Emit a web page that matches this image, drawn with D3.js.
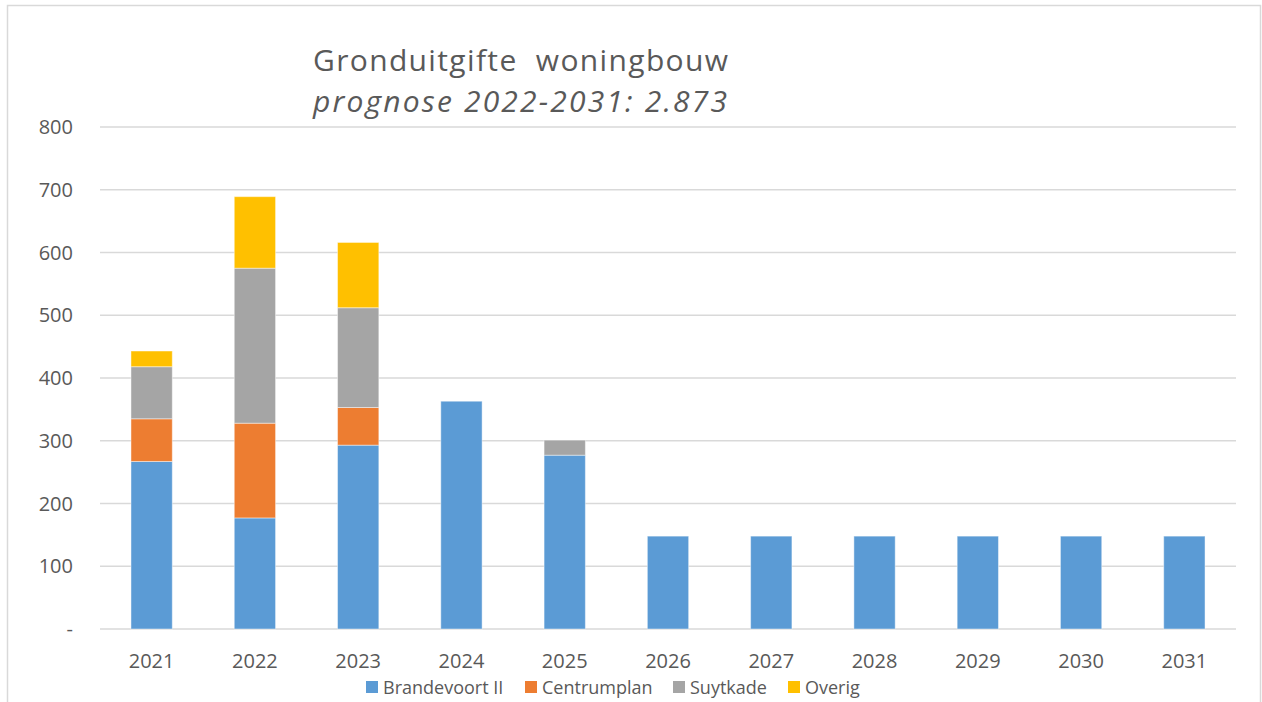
<!DOCTYPE html>
<html>
<head>
<meta charset="utf-8">
<script src="https://cdn.jsdelivr.net/npm/d3@7"></script>
<style>
    body { margin: 0; background: #fff; }
    svg text { font-family: "Open Sans", Lato, sans-serif; fill: #595959; }
</style>
</head>
<body>
<div class="visualGraph"></div>
<script>
// chart data
const years = ["2021", "2022", "2023", "2024", "2025", "2026", "2027", "2028", "2029", "2030", "2031"];
const series = ["Brandevoort II", "Centrumplan", "Suytkade", "Overig"];
const brandevoort = [267, 177, 293, 363, 277, 148, 148, 148, 148, 148, 148];
const centrumplan = [68, 151, 60, 0, 0, 0, 0, 0, 0, 0, 0];
const suytkade = [83, 247, 159, 0, 24, 0, 0, 0, 0, 0, 0];
const overig = [25, 114, 104, 0, 0, 0, 0, 0, 0, 0, 0];
const colors = ["#5b9bd5", "#ed7d31", "#a5a5a5", "#ffc000"];
const yTicks = [0, 100, 200, 300, 400, 500, 600, 700, 800];

const width = 1262;
const height = 702;

const rows = years.map((y, i) => ({
    year: y,
    "Brandevoort II": brandevoort[i],
    "Centrumplan": centrumplan[i],
    "Suytkade": suytkade[i],
    "Overig": overig[i]
}));

const svg = d3.select(".visualGraph")
    .append("svg")
    .attr("width", width)
    .attr("height", height)
    .attr("viewBox", [0, 0, width, height]);

// outer chart border
svg.append("rect")
    .attr("x", 7.5)
    .attr("y", 5.5)
    .attr("width", 1253)
    .attr("height", 720)
    .attr("fill", "#fff")
    .attr("stroke", "#d9d9d9")
    .attr("stroke-width", 1.5);

const x = d3.scaleBand()
    .domain(years)
    .range([100, 1236])
    .paddingInner(0.6)
    .paddingOuter(0.3);

const y = d3.scaleLinear()
    .domain([0, 800])
    .range([629, 127]);

// gridlines
svg.append("g")
    .selectAll("line")
    .data(yTicks)
    .join("line")
    .attr("x1", 100)
    .attr("x2", 1236)
    .attr("y1", d => y(d))
    .attr("y2", d => y(d))
    .attr("stroke", "#d9d9d9")
    .attr("stroke-width", 1.5);

// y axis labels
svg.append("g")
    .selectAll("text")
    .data(yTicks)
    .join("text")
    .attr("x", 73)
    .attr("y", d => y(d) + 7)
    .attr("text-anchor", "end")
    .style("font-size", "20px")
    .text(d => d === 0 ? "-" : d);

// stacked bars
const stacked = d3.stack().keys(series)(rows);

svg.append("g")
    .selectAll("g")
    .data(stacked)
    .join("g")
    .attr("fill", (d, i) => colors[i])
    .selectAll("rect")
    .data(d => d.filter(p => p[1] - p[0] > 0))
    .join("rect")
    .attr("x", d => x(d.data.year))
    .attr("y", d => y(d[1]))
    .attr("width", x.bandwidth())
    .attr("height", d => y(d[0]) - y(d[1]))
    .attr("stroke", "rgba(255,255,255,0.45)")
    .attr("stroke-width", 1);

// x axis labels
svg.append("g")
    .selectAll("text")
    .data(years)
    .join("text")
    .attr("x", d => x(d) + x.bandwidth() / 2)
    .attr("y", 668)
    .attr("text-anchor", "middle")
    .style("font-size", "20px")
    .text(d => d);

// title (stretched a bit to match the original's wide letters)
svg.append("text")
    .attr("x", 313)
    .attr("y", 71)
    .attr("xml:space", "preserve")
    .attr("textLength", 415)
    .attr("lengthAdjust", "spacing")
    .style("font-size", "30px")
    .text("Gronduitgifte  woningbouw");
svg.append("text")
    .attr("x", 313)
    .attr("y", 112)
    .attr("textLength", 414)
    .attr("lengthAdjust", "spacing")
    .style("font-size", "30px")
    .style("font-style", "italic")
    .text("prognose 2022-2031: 2.873");

// legend
const legendX = [366, 525, 673, 788];
const legend = svg.append("g")
    .selectAll("g")
    .data(series)
    .join("g")
    .attr("transform", (d, i) => `translate(${legendX[i]},681)`);

legend.append("rect")
    .attr("width", 12)
    .attr("height", 12)
    .attr("fill", (d, i) => colors[i]);

legend.append("text")
    .attr("x", 17)
    .attr("y", 13)
    .style("font-size", "18px")
    .text(d => d);
</script>
</body>
</html>
